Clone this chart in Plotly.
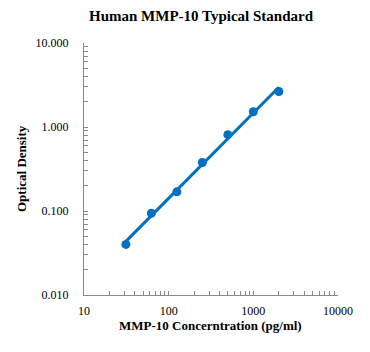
import numpy as np
import plotly.graph_objects as go

conc = [31.25, 62.5, 125, 250, 500, 1000, 2000]
od = [0.040, 0.094, 0.169, 0.378, 0.81, 1.52, 2.65]
x_ticks = [10, 100, 1000, 10000]
x_tick_labels = ["10", "100", "1000", "10000"]
y_ticks = [0.01, 0.1, 1, 10]
y_tick_labels = ["0.010", "0.100", "1.000", "10.000"]

blue = "#0070C0"
axis_grey = "#898989"
font_family = "Liberation Serif, Times New Roman, serif"

# power (log-log linear) trend line
coef = np.polyfit(np.log10(conc), np.log10(od), 1)
fx = np.logspace(np.log10(conc[0]), np.log10(conc[-1]), 50)
fy = 10 ** np.polyval(coef, np.log10(fx))

fig = go.Figure()
fig.add_trace(go.Scatter(x=fx, y=fy, mode="lines",
                         line=dict(color=blue, width=3), hoverinfo="skip", showlegend=False))
fig.add_trace(go.Scatter(x=conc, y=od, mode="markers",
                         marker=dict(color=blue, size=9), showlegend=False))

minor = dict(ticks="inside", ticklen=4, tickcolor=axis_grey, dtick="D1", showgrid=False)

fig.update_layout(
    width=370, height=352,
    margin=dict(l=84, r=32, t=43, b=57),
    paper_bgcolor="white", plot_bgcolor="white",
    font=dict(family=font_family, size=12, color="#000000"),
    title=dict(text="<b>Human MMP-10 Typical Standard</b>", x=201/370, xanchor="center",
               y=1 - 16/352, yanchor="middle", font=dict(size=15, family=font_family)),
    xaxis=dict(type="log", range=[1, 4], tickvals=x_ticks, ticktext=x_tick_labels,
               ticks="inside", ticklen=4, tickcolor=axis_grey, showline=True, linecolor=axis_grey,
               linewidth=1, showgrid=False, zeroline=False, minor=minor, ticklabelstandoff=5,
               tickfont=dict(size=12, family=font_family)),
    yaxis=dict(type="log", range=[-2, 1], tickvals=y_ticks, ticktext=y_tick_labels,
               ticks="inside", ticklen=4, tickcolor=axis_grey, showline=True, linecolor=axis_grey,
               linewidth=1, showgrid=False, zeroline=False, minor=minor, ticklabelstandoff=12,
               tickfont=dict(size=12, family=font_family)),
    annotations=[
        dict(text="<b>MMP-10 Concerntration (pg/ml)</b>", xref="paper", yref="paper",
             x=(210 - 84) / 254, y=-(325 - 295) / 252, xanchor="center", yanchor="middle",
             showarrow=False, font=dict(size=13, family=font_family)),
        dict(text="<b>Optical Density</b>", xref="paper", yref="paper",
             x=-(84 - 21) / 254, y=0.5, xanchor="center", yanchor="middle", textangle=-90,
             showarrow=False, font=dict(size=13, family=font_family)),
    ],
)

fig.write_html("out.html")
